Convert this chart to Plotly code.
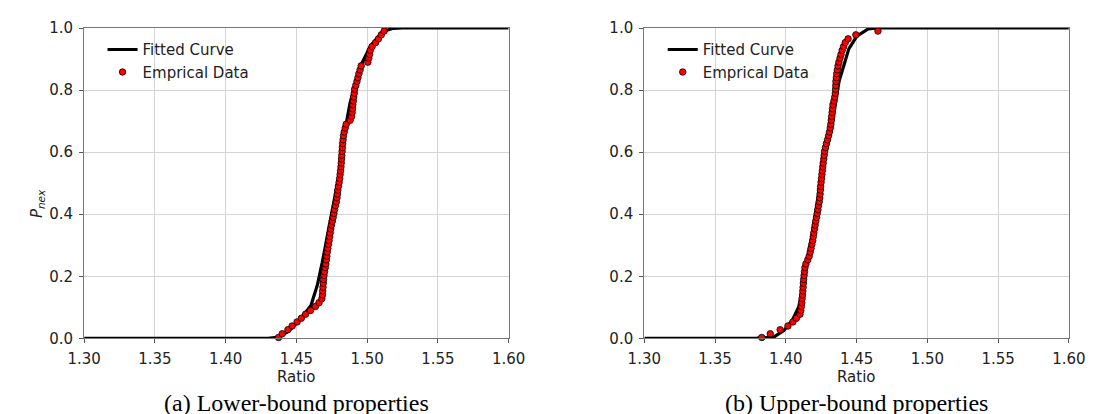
import plotly.graph_objects as go

# ---------------- data ----------------
# (a) Lower-bound properties
fit_a_x = [1.300, 1.420, 1.430, 1.4363, 1.440, 1.445, 1.4523, 1.4603, 1.4649, 1.4683,
           1.4717, 1.4751, 1.4786, 1.4808, 1.4830, 1.4854, 1.4880, 1.4911, 1.4957,
           1.5025, 1.5094, 1.5140, 1.5185, 1.525, 1.600]
fit_a_y = [0.000, 0.000, 0.000, 0.003, 0.010, 0.025, 0.059, 0.106, 0.173, 0.245,
           0.327, 0.409, 0.481, 0.542, 0.620, 0.696, 0.760, 0.810, 0.881,
           0.943, 0.979, 0.993, 0.999, 1.000, 1.000]

emp_a_x = [1.4374, 1.4400, 1.4440, 1.4470, 1.4505, 1.4535, 1.4565, 1.4600, 1.4635, 1.4660,
           1.4680, 1.4684, 1.4686, 1.4688, 1.4690, 1.4692, 1.4695, 1.4699, 1.4704, 1.4708,
           1.4712, 1.4715, 1.4718, 1.4722, 1.4727, 1.4731, 1.4735, 1.4739, 1.4743, 1.4748,
           1.4754, 1.4760, 1.4765, 1.4770, 1.4776, 1.4782, 1.4787, 1.4790, 1.4793, 1.4797,
           1.4802, 1.4806, 1.4809, 1.4812, 1.4815, 1.4817, 1.4819, 1.4821, 1.4823, 1.4825,
           1.4827, 1.4830, 1.4833, 1.4838, 1.4845, 1.4852, 1.4880, 1.4890, 1.4894, 1.4897,
           1.4899, 1.4902, 1.4905, 1.4909, 1.4912, 1.4920, 1.4928, 1.4935, 1.4942, 1.4950,
           1.4958, 1.5005, 1.5012, 1.5017, 1.5022, 1.5035, 1.5060, 1.5080, 1.5100, 1.5120]
emp_a_y = [0.003, 0.015, 0.028, 0.040, 0.053, 0.065, 0.078, 0.090, 0.103, 0.115,
           0.128, 0.140, 0.153, 0.165, 0.178, 0.190, 0.203, 0.215, 0.228, 0.240,
           0.253, 0.265, 0.278, 0.290, 0.303, 0.315, 0.328, 0.340, 0.353, 0.365,
           0.378, 0.390, 0.403, 0.415, 0.428, 0.440, 0.453, 0.465, 0.478, 0.490,
           0.503, 0.515, 0.528, 0.540, 0.553, 0.565, 0.578, 0.590, 0.603, 0.615,
           0.628, 0.640, 0.653, 0.665, 0.678, 0.690, 0.703, 0.715, 0.728, 0.740,
           0.753, 0.765, 0.778, 0.790, 0.803, 0.815, 0.828, 0.840, 0.853, 0.865,
           0.878, 0.890, 0.903, 0.915, 0.928, 0.940, 0.953, 0.965, 0.978, 0.990]

# (b) Upper-bound properties
fit_b_x = [1.300, 1.375, 1.3795, 1.3914, 1.3986, 1.4046, 1.4091, 1.4125, 1.4148, 1.4183,
           1.4217, 1.4251, 1.4262, 1.4297, 1.4331, 1.4354, 1.4377, 1.4411, 1.4445,
           1.4502, 1.4582, 1.465, 1.600]
fit_b_y = [0.000, 0.000, 0.001, 0.004, 0.025, 0.059, 0.101, 0.173, 0.245, 0.327,
           0.419, 0.512, 0.553, 0.625, 0.696, 0.768, 0.830, 0.881, 0.933,
           0.974, 0.997, 1.000, 1.000]

emp_b_x = [1.3830, 1.3890, 1.3960, 1.4015, 1.4050, 1.4075, 1.4100, 1.4106, 1.4110, 1.4113,
           1.4115, 1.4118, 1.4120, 1.4122, 1.4124, 1.4126, 1.4129, 1.4132, 1.4135, 1.4142,
           1.4155, 1.4165, 1.4172, 1.4178, 1.4184, 1.4190, 1.4194, 1.4198, 1.4203, 1.4207,
           1.4212, 1.4217, 1.4222, 1.4227, 1.4231, 1.4236, 1.4240, 1.4242, 1.4244, 1.4246,
           1.4249, 1.4252, 1.4255, 1.4258, 1.4261, 1.4264, 1.4268, 1.4271, 1.4274, 1.4280,
           1.4287, 1.4295, 1.4302, 1.4308, 1.4314, 1.4318, 1.4321, 1.4324, 1.4327, 1.4330,
           1.4333, 1.4340, 1.4346, 1.4350, 1.4352, 1.4353, 1.4354, 1.4357, 1.4360, 1.4364,
           1.4369, 1.4375, 1.4383, 1.4390, 1.4398, 1.4408, 1.4420, 1.4440, 1.4495, 1.4651]
emp_b_y = [0.003, 0.015, 0.028, 0.040, 0.053, 0.065, 0.078, 0.090, 0.103, 0.115,
           0.128, 0.140, 0.153, 0.165, 0.178, 0.190, 0.203, 0.215, 0.228, 0.240,
           0.253, 0.265, 0.278, 0.290, 0.303, 0.315, 0.328, 0.340, 0.353, 0.365,
           0.378, 0.390, 0.403, 0.415, 0.428, 0.440, 0.453, 0.465, 0.478, 0.490,
           0.503, 0.515, 0.528, 0.540, 0.553, 0.565, 0.578, 0.590, 0.603, 0.615,
           0.628, 0.640, 0.653, 0.665, 0.678, 0.690, 0.703, 0.715, 0.728, 0.740,
           0.753, 0.765, 0.778, 0.790, 0.803, 0.815, 0.828, 0.840, 0.853, 0.865,
           0.878, 0.890, 0.903, 0.915, 0.928, 0.940, 0.953, 0.965, 0.978, 0.990]

x_ticks = [1.30, 1.35, 1.40, 1.45, 1.50, 1.55, 1.60]
y_ticks = [0.0, 0.2, 0.4, 0.6, 0.8, 1.0]
captions = ["(a) Lower-bound properties", "(b) Upper-bound properties"]
series_names = ["Fitted Curve", "Emprical Data"]
x_title = "Ratio"
y_title = "<i>P</i><sub><i>nex</i></sub>"

# ---------------- layout geometry ----------------
W, H = 1104, 414
def px(x):
    return x / W
def py(y):
    return 1 - y / H

dom_a = [px(61), px(499)]
dom_b = [px(639), px(1077)]
dom_y = [py(336), py(11.5)]

FONT = "DejaVu Sans"
fig = go.Figure()

panels = [
    (fit_a_x, fit_a_y, emp_a_x, emp_a_y, "x", "y", "legend"),
    (fit_b_x, fit_b_y, emp_b_x, emp_b_y, "x2", "y2", "legend2"),
]
for fx, fy, ex, ey, xa, ya, lg in panels:
    fig.add_trace(go.Scatter(x=fx, y=fy, mode="lines", name=series_names[0],
                             line=dict(color="black", width=3.2),
                             xaxis=xa, yaxis=ya, legend=lg))
    fig.add_trace(go.Scatter(x=ex, y=ey, mode="markers", name=series_names[1],
                             marker=dict(color="#ff0000", size=6.5,
                                         line=dict(color="black", width=0.8)),
                             cliponaxis=False,
                             xaxis=xa, yaxis=ya, legend=lg))

axis_common = dict(showgrid=True, gridcolor="#d4d4d4", gridwidth=1,
                   showline=True, linecolor="#777777", linewidth=1.2, mirror=True,
                   ticks="outside", ticklen=4, tickcolor="#555555", zeroline=False,
                   tickfont=dict(family=FONT, size=15, color="#222222"))

legend_common = dict(xanchor="left", yanchor="top", bgcolor="rgba(0,0,0,0)",
                     font=dict(family=FONT, size=15, color="#222222"), itemwidth=30)

fig.update_layout(
    width=W, height=H,
    margin=dict(l=0, r=0, t=0, b=0),
    paper_bgcolor="white", plot_bgcolor="white",
    xaxis=dict(domain=dom_a, range=[1.3, 1.6], tickvals=x_ticks, tickformat=".2f",
               anchor="y", ticklabelstandoff=3, **axis_common),
    yaxis=dict(domain=dom_y, range=[0, 1], tickvals=y_ticks, tickformat=".1f",
               anchor="x", ticklabelstandoff=3, **axis_common),
    xaxis2=dict(domain=dom_b, range=[1.3, 1.6], tickvals=x_ticks, tickformat=".2f",
                anchor="y2", ticklabelstandoff=3, **axis_common),
    yaxis2=dict(domain=dom_y, range=[0, 1], tickvals=y_ticks, tickformat=".1f",
                anchor="x2", ticklabelstandoff=3, **axis_common),
    legend=dict(x=px(80), y=py(17), **legend_common),
    legend2=dict(x=px(658), y=py(17), **legend_common),
)

ann = []
for dom, cap in [(dom_a, captions[0]), (dom_b, captions[1])]:
    cx = (dom[0] + dom[1]) / 2
    ann.append(dict(x=cx, y=py(376), xref="paper", yref="paper", text=x_title,
                    showarrow=False, xanchor="center", yanchor="middle",
                    font=dict(family=FONT, size=15, color="#222222")))
    ann.append(dict(x=cx, y=py(404), xref="paper", yref="paper", text=cap,
                    showarrow=False, xanchor="center", yanchor="middle",
                    font=dict(family="Liberation Serif", size=24, color="black")))
ann.append(dict(x=px(13), y=py(195), xref="paper", yref="paper", text=y_title,
                showarrow=False, textangle=-90, xanchor="center", yanchor="middle",
                font=dict(family=FONT, size=15, color="#222222")))
fig.update_layout(annotations=ann)

fig.write_html("out.html")
